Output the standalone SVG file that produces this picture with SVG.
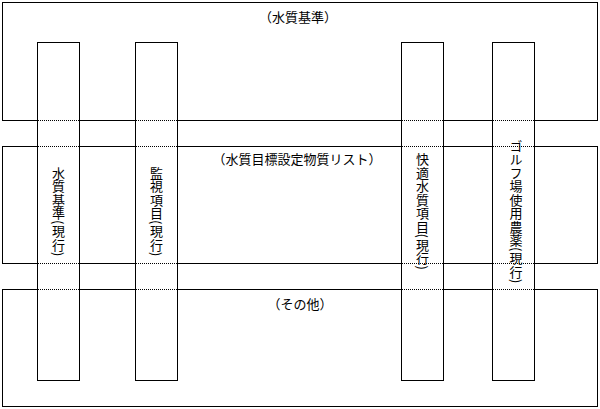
<svg xmlns="http://www.w3.org/2000/svg" width="600" height="409" viewBox="0 0 600 409">
<style>
.box{fill:none;stroke:#000;stroke-width:1}
.col{fill:#fff;stroke:#000;stroke-width:1}
.dot{stroke:#000;stroke-width:1;stroke-dasharray:1 1;fill:none}
.t{font-family:"Noto Sans CJK JP","Noto Sans CJK SC",sans-serif;font-size:13px;fill:#000}
.h{text-anchor:middle;dominant-baseline:central}
.v{writing-mode:vertical-rl;text-anchor:middle;letter-spacing:0.5px}
</style>
<rect width="600" height="409" fill="#fff"/>
<g id="group-water-standard">
<rect class="box" x="2.5" y="2.5" width="595" height="118"/>
<text class="t h" x="298" y="16">（水質基準）</text>
</g>
<g id="group-target-list">
<rect class="box" x="2.5" y="146.5" width="595" height="117"/>
<text class="t h" x="297" y="158">（水質目標設定物質リスト）</text>
</g>
<g id="group-other">
<rect class="box" x="2.5" y="289.5" width="595" height="117"/>
<text class="t h" x="300" y="303">（その他）</text>
</g>
<g id="col-water-standard-current">
<rect class="col" x="37.5" y="42.5" width="42" height="338"/>
<text class="t v" x="58.5" y="211.5">水質基準(現行)</text>
</g>
<g id="col-monitoring-current">
<rect class="col" x="135.5" y="42.5" width="42" height="338"/>
<text class="t v" x="156.5" y="211.5">監視項目(現行)</text>
</g>
<g id="col-comfort-current">
<rect class="col" x="401.5" y="42.5" width="42" height="338"/>
<text class="t v" x="422.5" y="211.5">快適水質項目(現行)</text>
</g>
<g id="col-golf-current">
<rect class="col" x="492.5" y="42.5" width="42" height="338"/>
<text class="t v" x="516" y="211.5">ゴルフ場使用農薬(現行)</text>
</g>
<g id="connectors">
<path class="dot" d="M38 120.5H79M136 120.5H177M402 120.5H443M493 120.5H534"/>
<path class="dot" d="M38 146.5H79M136 146.5H177M402 146.5H443M493 146.5H534"/>
<path class="dot" d="M38 263.5H79M136 263.5H177M402 263.5H443M493 263.5H534"/>
<path class="dot" d="M38 289.5H79M136 289.5H177M402 289.5H443M493 289.5H534"/>
</g>
</svg>
